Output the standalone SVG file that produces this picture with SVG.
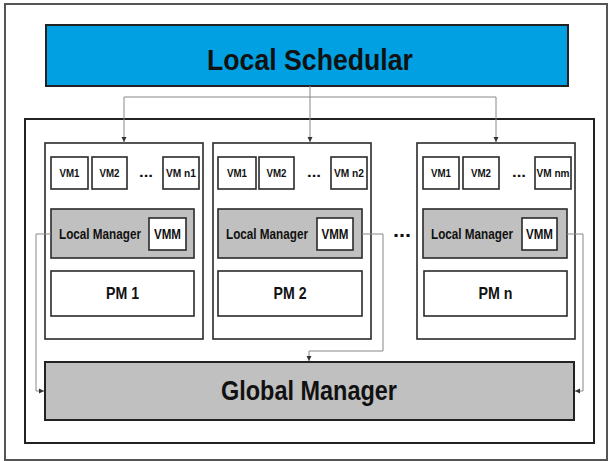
<svg xmlns="http://www.w3.org/2000/svg" width="608" height="461" viewBox="0 0 608 461">
  <defs>
    <marker id="arr" markerUnits="userSpaceOnUse" markerWidth="6" markerHeight="6" refX="5" refY="3" orient="auto">
      <path d="M0,0.5 L5,3 L0,5.5 z" fill="#333"/>
    </marker>
    <style>
      .box { fill: #fff; stroke: #2a2a2a; stroke-width: 1.6; }
      .gray { fill: #c0c0c0; stroke: #2a2a2a; stroke-width: 1.6; }
      .conn { fill: none; stroke: #888; stroke-width: 1; }
      text { font-family: "Liberation Sans", Arial, sans-serif; font-weight: bold; fill: #111; }
      .vm { font-size: 11.5px; text-anchor: middle; }
      .lm { font-size: 14px; }
      .vmm { font-size: 14px; text-anchor: middle; }
      .pm { font-size: 17px; text-anchor: middle; }
      .dots { font-size: 15px; text-anchor: middle; }
    </style>
  </defs>

  <rect x="5" y="4" width="602" height="456" fill="#fff" stroke="#555" stroke-width="2"/>
  <rect x="25" y="119" width="569" height="324" fill="none" stroke="#222" stroke-width="2"/>

  <g id="local-schedular">
    <rect x="46" y="25" width="522" height="61" fill="#00a0e3" stroke="#222" stroke-width="2"/>
    <text x="310" y="70" font-size="30" text-anchor="middle" textLength="206" lengthAdjust="spacingAndGlyphs">Local Schedular</text>
  </g>

  <g id="pm1">
    <rect class="box" x="45" y="143" width="158" height="196"/>
    <rect class="box" x="51" y="157" width="37" height="32"/>
    <text class="vm" x="69.5" y="177" textLength="20" lengthAdjust="spacingAndGlyphs">VM1</text>
    <rect class="box" x="92" y="157" width="35" height="32"/>
    <text class="vm" x="109.5" y="177" textLength="20" lengthAdjust="spacingAndGlyphs">VM2</text>
    <text class="dots" x="146" y="177" textLength="14" lengthAdjust="spacingAndGlyphs">...</text>
    <rect class="box" x="163" y="157" width="36" height="32"/>
    <text class="vm" x="181" y="177" textLength="30" lengthAdjust="spacingAndGlyphs">VM n1</text>
    <rect class="gray" x="51" y="209" width="143" height="49"/>
    <text class="lm" x="59" y="239" textLength="82" lengthAdjust="spacingAndGlyphs">Local Manager</text>
    <rect class="box" x="149" y="218" width="37" height="32"/>
    <text class="vmm" x="167.5" y="239" textLength="27" lengthAdjust="spacingAndGlyphs">VMM</text>
    <rect class="box" x="51" y="271" width="143" height="45"/>
    <text class="pm" x="122.5" y="299" textLength="33" lengthAdjust="spacingAndGlyphs">PM 1</text>
  </g>

  <g id="pm2">
    <rect class="box" x="213" y="143" width="158" height="196"/>
    <rect class="box" x="218" y="157" width="38" height="32"/>
    <text class="vm" x="237" y="177" textLength="20" lengthAdjust="spacingAndGlyphs">VM1</text>
    <rect class="box" x="259" y="157" width="35" height="32"/>
    <text class="vm" x="276.5" y="177" textLength="20" lengthAdjust="spacingAndGlyphs">VM2</text>
    <text class="dots" x="314" y="177" textLength="14" lengthAdjust="spacingAndGlyphs">...</text>
    <rect class="box" x="331" y="157" width="36" height="32"/>
    <text class="vm" x="349" y="177" textLength="30" lengthAdjust="spacingAndGlyphs">VM n2</text>
    <rect class="gray" x="218" y="209" width="144" height="49"/>
    <text class="lm" x="226" y="239" textLength="82" lengthAdjust="spacingAndGlyphs">Local Manager</text>
    <rect class="box" x="317" y="218" width="36" height="32"/>
    <text class="vmm" x="335" y="239" textLength="27" lengthAdjust="spacingAndGlyphs">VMM</text>
    <rect class="box" x="218" y="271" width="144" height="45"/>
    <text class="pm" x="290" y="299" textLength="33" lengthAdjust="spacingAndGlyphs">PM 2</text>
  </g>

  <g id="ellipsis">
    <text x="402" y="237" font-size="20" text-anchor="middle" textLength="18" lengthAdjust="spacingAndGlyphs">...</text>
  </g>

  <g id="pmn">
    <rect class="box" x="417" y="143" width="158" height="196"/>
    <rect class="box" x="423" y="157" width="36" height="32"/>
    <text class="vm" x="441" y="177" textLength="20" lengthAdjust="spacingAndGlyphs">VM1</text>
    <rect class="box" x="463" y="157" width="36" height="32"/>
    <text class="vm" x="481" y="177" textLength="20" lengthAdjust="spacingAndGlyphs">VM2</text>
    <text class="dots" x="519" y="177" textLength="14" lengthAdjust="spacingAndGlyphs">...</text>
    <rect class="box" x="535" y="157" width="36" height="32"/>
    <text class="vm" x="553" y="177" textLength="33" lengthAdjust="spacingAndGlyphs">VM nm</text>
    <rect class="gray" x="423" y="209" width="144" height="49"/>
    <text class="lm" x="431" y="239" textLength="82" lengthAdjust="spacingAndGlyphs">Local Manager</text>
    <rect class="box" x="522" y="218" width="35" height="32"/>
    <text class="vmm" x="539.5" y="239" textLength="27" lengthAdjust="spacingAndGlyphs">VMM</text>
    <rect class="box" x="424" y="271" width="143" height="45"/>
    <text class="pm" x="495.5" y="299" textLength="34" lengthAdjust="spacingAndGlyphs">PM n</text>
  </g>

  <g id="global-manager">
    <rect x="45" y="362" width="529" height="58" fill="#c0c0c0" stroke="#222" stroke-width="2"/>
    <text x="309" y="400" font-size="28" text-anchor="middle" textLength="176" lengthAdjust="spacingAndGlyphs">Global Manager</text>
  </g>

  <g id="connectors">
    <path class="conn" d="M310,86 V97"/>
    <path class="conn" d="M124,97 H496"/>
    <path class="conn" d="M124,97 V142" marker-end="url(#arr)"/>
    <path class="conn" d="M310,97 V142" marker-end="url(#arr)"/>
    <path class="conn" d="M496,97 V142" marker-end="url(#arr)"/>
    <path class="conn" d="M51,234 H36 V391 H44" marker-end="url(#arr)"/>
    <path class="conn" d="M362,234 H383 V351 H309 V361" marker-end="url(#arr)"/>
    <path class="conn" d="M567,234 H583 V391 H575" marker-end="url(#arr)"/>
  </g>
</svg>
